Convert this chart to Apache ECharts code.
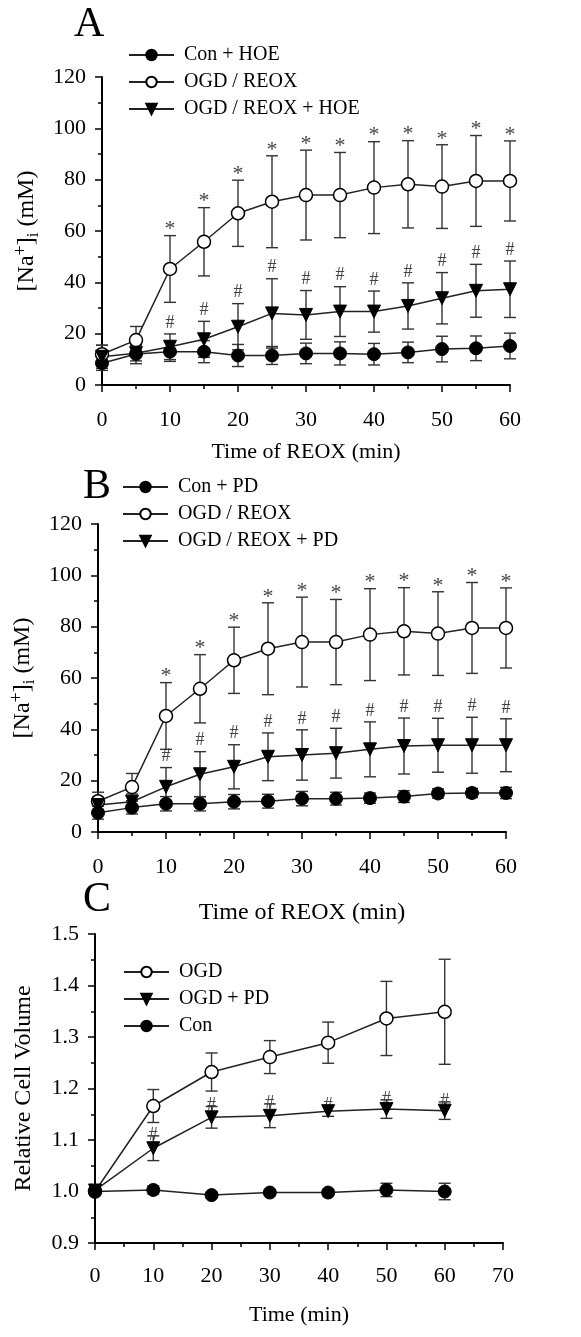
<!DOCTYPE html>
<html>
<head>
<meta charset="utf-8">
<script src="https://cdn.jsdelivr.net/npm/echarts@6/dist/echarts.min.js"></script>
<style>html,body{margin:0;padding:0;background:#fff;}#c{width:581px;height:1337px;}</style>
</head>
<body>
<div id="c"></div>
<script>
// ---------- DATA ----------
const timesAB = [0, 5, 10, 15, 20, 25, 30, 35, 40, 45, 50, 55, 60];
const timesC = [0, 10, 20, 30, 40, 50, 60];

// Panel A
const conHoeMean = [8.5, 12.1, 13.0, 13.0, 11.5, 11.5, 12.3, 12.3, 12.0, 12.7, 14.0, 14.3, 15.2];
const conHoeSd   = [2.8, 3.8, 3.8, 4.3, 4.3, 3.5, 4.0, 4.5, 4.2, 4.0, 5.0, 4.8, 5.0];
const ogdMean    = [12.0, 17.5, 45.2, 55.8, 66.9, 71.4, 74.0, 74.0, 76.9, 78.2, 77.3, 79.5, 79.5];
const ogdSd      = [3.5, 5.3, 13.0, 13.3, 12.9, 17.9, 17.5, 16.6, 17.9, 17.0, 16.3, 17.7, 15.6];
const hoeMean    = [11.0, 12.4, 14.9, 17.8, 22.7, 27.9, 27.3, 28.6, 28.6, 30.8, 33.8, 36.7, 37.3];
const hoeSd      = [4.5, 3.0, 5.0, 7.0, 9.0, 13.5, 9.5, 9.7, 8.0, 9.0, 10.0, 10.3, 11.0];

// Panel B
const conPdMean  = [7.5, 9.5, 11.0, 11.0, 11.8, 12.0, 13.0, 13.0, 13.2, 13.8, 15.0, 15.2, 15.2];
const conPdSd    = [2.5, 2.5, 2.8, 2.8, 2.8, 2.7, 2.8, 2.5, 2.0, 2.3, 1.8, 1.8, 2.2];
const pdMean     = [10.5, 11.8, 17.6, 22.5, 25.4, 29.3, 30.0, 30.7, 32.2, 33.5, 33.8, 33.8, 33.8];
const pdSd       = [3.0, 3.0, 7.5, 8.8, 8.6, 9.3, 9.8, 9.7, 10.7, 10.9, 10.5, 10.9, 10.3];

// Panel C
const ogdC     = [1.000, 1.166, 1.232, 1.261, 1.289, 1.336, 1.349];
const ogdCSd   = [0.005, 0.032, 0.037, 0.032, 0.040, 0.072, 0.102];
const pdC      = [1.002, 1.084, 1.144, 1.147, 1.156, 1.160, 1.157];
const pdCSd    = [0.005, 0.024, 0.021, 0.023, 0.010, 0.018, 0.017];
const conC     = [1.000, 1.003, 0.993, 0.998, 0.998, 1.003, 1.000];
const conCSd   = [0.006, 0.008, 0.006, 0.005, 0.006, 0.013, 0.016];

// Significance marks
const starAB  = ['', '', '*', '*', '*', '*', '*', '*', '*', '*', '*', '*', '*'];
const hashAB  = ['', '', '#', '#', '#', '#', '#', '#', '#', '#', '#', '#', '#'];
const hashC   = ['', '#', '#', '#', '#', '#', '#'];

// Labels
const namesA = ['Con + HOE', 'OGD / REOX', 'OGD / REOX + HOE'];
const namesB = ['Con + PD', 'OGD / REOX', 'OGD / REOX + PD'];
const namesC = ['OGD', 'OGD + PD', 'Con'];
const xTitleAB = 'Time of REOX (min)';
const xTitleC = 'Time (min)';
const yTitleC = 'Relative Cell Volume';

// ---------- STYLE ----------
const FONT = 'Liberation Serif';
const chart = echarts.init(document.getElementById('c'), null, {renderer: 'canvas'});

function pairs(xs, ys) { return xs.map((x, i) => [x, ys[i]]); }
function errData(xs, m, s) { return xs.map((x, i) => [x, m[i], s[i]]); }

function errSeries(idx, xs, m, s, marks, markGap, markSize) {
  return {
    type: 'custom',
    xAxisIndex: idx, yAxisIndex: idx,
    z: 1,
    silent: true,
    data: errData(xs, m, s),
    renderItem: function (params, api) {
      const i = params.dataIndex;
      const x = api.value(0), mv = api.value(1), sv = api.value(2);
      const p1 = api.coord([x, mv + sv]);
      const p2 = api.coord([x, mv - sv]);
      const cw = 6;
      const st = {stroke: '#333', lineWidth: 1.4};
      const ch = [
        {type: 'line', shape: {x1: p1[0], y1: p1[1], x2: p2[0], y2: p2[1]}, style: st},
        {type: 'line', shape: {x1: p1[0] - cw, y1: p1[1], x2: p1[0] + cw, y2: p1[1]}, style: st},
        {type: 'line', shape: {x1: p2[0] - cw, y1: p2[1], x2: p2[0] + cw, y2: p2[1]}, style: st}
      ];
      if (marks && marks[i]) {
        ch.push({type: 'text', style: {
          text: marks[i], x: p1[0], y: p1[1] - markGap,
          align: 'center', verticalAlign: 'bottom',
          fontSize: markSize, fontFamily: FONT, fill: '#444'
        }});
      }
      return {type: 'group', children: ch};
    }
  };
}

function lineSeries(idx, name, xs, ys, kind) {
  const s = {
    type: 'line', name: name, xAxisIndex: idx, yAxisIndex: idx, z: 3,
    data: pairs(xs, ys),
    symbolSize: 13,
    lineStyle: {color: '#222', width: 1.5},
    emphasis: {disabled: true},
    animation: false
  };
  if (kind === 'filled') {
    s.symbol = 'circle';
    s.itemStyle = {color: '#000', borderColor: '#000', borderWidth: 1};
  } else if (kind === 'open') {
    s.symbol = 'circle';
    s.itemStyle = {color: '#fff', borderColor: '#000', borderWidth: 1.5};
  } else {
    s.symbol = 'triangle';
    s.symbolRotate = 180;
    s.symbolSize = 13;
    s.itemStyle = {color: '#000', borderColor: '#000', borderWidth: 1};
  }
  return s;
}

const axisLineStyle = {show: true, onZero: false, lineStyle: {color: '#000', width: 2}};
const tickStyle = {show: true, inside: false, length: 7, lineStyle: {color: '#000', width: 1.5}};
const minorStyle = {show: true, splitNumber: 2, length: 4, lineStyle: {color: '#000', width: 1.5}};
const labelStyle = {color: '#000', fontFamily: FONT, fontSize: 22};

function xAxis(idx, max, name, gap, nameSize, margin) {
  return {
    type: 'value', gridIndex: idx, min: 0, max: max, interval: 10,
    axisLine: axisLineStyle, axisTick: tickStyle, minorTick: minorStyle,
    splitLine: {show: false}, minorSplitLine: {show: false},
    axisLabel: Object.assign({margin: margin}, labelStyle),
    name: name, nameLocation: 'middle', nameGap: gap,
    nameTextStyle: {color: '#000', fontFamily: FONT, fontSize: nameSize}
  };
}

const naRich = {
  a: {fontFamily: FONT, fontSize: 24, color: '#000', lineHeight: 30},
  sup: {fontFamily: FONT, fontSize: 18, color: '#000', verticalAlign: 'top', lineHeight: 30},
  sub: {fontFamily: FONT, fontSize: 17, color: '#000', verticalAlign: 'bottom', lineHeight: 30}
};
const naTitle = '{a|[Na}{sup|+}{a|]}{sub|i}{a| (mM)}';

function yAxisNa(idx, gap) {
  return {
    type: 'value', gridIndex: idx, min: 0, max: 120, interval: 20,
    axisLine: axisLineStyle, axisTick: tickStyle, minorTick: minorStyle,
    splitLine: {show: false}, minorSplitLine: {show: false},
    axisLabel: Object.assign({margin: 16}, labelStyle),
    name: naTitle, nameLocation: 'middle', nameGap: gap,
    nameTextStyle: {rich: naRich}
  };
}

const legendBase = {
  orient: 'vertical', itemWidth: 45, itemHeight: 13, itemGap: 7,
  textStyle: {color: '#000', fontFamily: FONT, fontSize: 20, lineHeight: 20, padding: [0, 0, 0, 5]},
  selectedMode: false, padding: 0, inactiveColor: '#000'
};

const option = {
  animation: false,
  backgroundColor: '#fff',
  title: [
    {text: 'A', left: 74, top: 4, padding: 0, textStyle: {fontFamily: FONT, fontSize: 42, fontWeight: 'normal', color: '#000'}},
    {text: 'B', left: 83, top: 466, padding: 0, textStyle: {fontFamily: FONT, fontSize: 42, fontWeight: 'normal', color: '#000'}},
    {text: 'C', left: 83, top: 879, padding: 0, textStyle: {fontFamily: FONT, fontSize: 42, fontWeight: 'normal', color: '#000'}}
  ],
  legend: [
    Object.assign({left: 128, top: 45, data: namesA}, legendBase),
    Object.assign({left: 122, top: 477, data: namesB}, legendBase),
    Object.assign({left: 123, top: 962, data: namesC}, legendBase)
  ],
  grid: [
    {left: 102, top: 77, width: 408, height: 308, outerBoundsMode: 'none', containLabel: false},
    {left: 98, top: 524, width: 408, height: 308, outerBoundsMode: 'none', containLabel: false},
    {left: 95, top: 934, width: 408, height: 309, outerBoundsMode: 'none', containLabel: false}
  ],
  xAxis: [
    xAxis(0, 60, xTitleAB, 56, 22, 24),
    xAxis(1, 60, xTitleAB, 69, 24, 24),
    xAxis(2, 70, xTitleC, 61, 22, 22)
  ],
  yAxis: [
    yAxisNa(0, 48),
    yAxisNa(1, 45),
    {
      type: 'value', gridIndex: 2, min: 0.9, max: 1.5, interval: 0.1,
      axisLine: axisLineStyle, axisTick: tickStyle, minorTick: minorStyle,
      splitLine: {show: false}, minorSplitLine: {show: false},
      axisLabel: Object.assign({margin: 16, formatter: v => v.toFixed(1)}, labelStyle),
      name: yTitleC, nameLocation: 'middle', nameGap: 59,
      nameTextStyle: {color: '#000', fontFamily: FONT, fontSize: 24}
    }
  ],
  series: [
    // Panel A
    errSeries(0, timesAB, conHoeMean, conHoeSd, null, 0, 18),
    errSeries(0, timesAB, ogdMean, ogdSd, starAB, -5, 22),
    errSeries(0, timesAB, hoeMean, hoeSd, hashAB, 2, 18),
    lineSeries(0, namesA[0], timesAB, conHoeMean, 'filled'),
    lineSeries(0, namesA[1], timesAB, ogdMean, 'open'),
    lineSeries(0, namesA[2], timesAB, hoeMean, 'tri'),
    // Panel B
    errSeries(1, timesAB, conPdMean, conPdSd, null, 0, 18),
    errSeries(1, timesAB, ogdMean, ogdSd, starAB, -5, 22),
    errSeries(1, timesAB, pdMean, pdSd, hashAB, 2, 18),
    lineSeries(1, namesB[0], timesAB, conPdMean, 'filled'),
    lineSeries(1, namesB[1], timesAB, ogdMean, 'open'),
    lineSeries(1, namesB[2], timesAB, pdMean, 'tri'),
    // Panel C
    errSeries(2, timesC, ogdC, ogdCSd, null, 0, 18),
    errSeries(2, timesC, pdC, pdCSd, hashC, -8, 18),
    errSeries(2, timesC, conC, conCSd, null, 0, 18),
    lineSeries(2, namesC[0], timesC, ogdC, 'open'),
    lineSeries(2, namesC[1], timesC, pdC, 'tri'),
    lineSeries(2, namesC[2], timesC, conC, 'filled')
  ]
};
chart.setOption(option);
</script>
</body>
</html>
